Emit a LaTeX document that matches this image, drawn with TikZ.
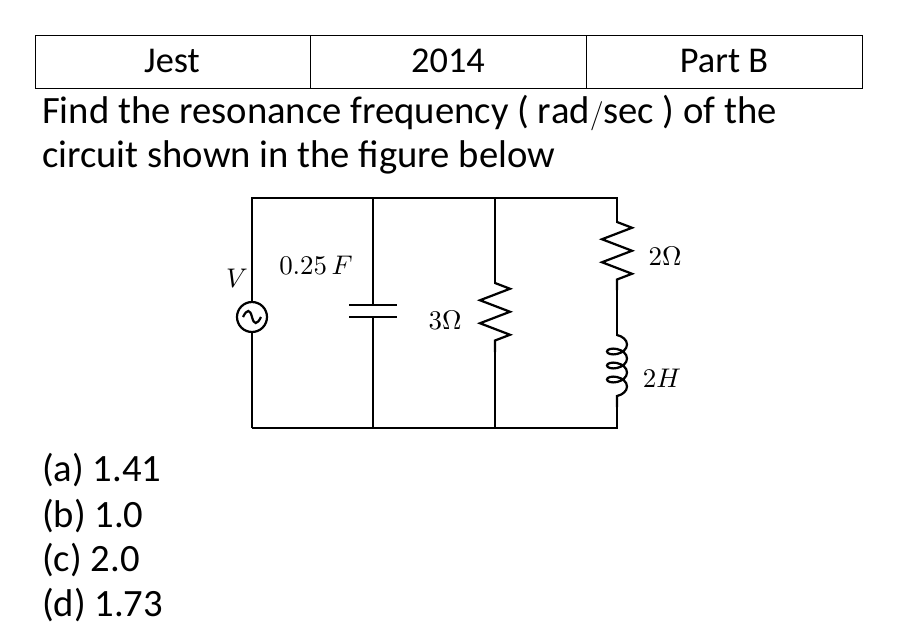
\documentclass[tikz,border=0pt]{standalone}
\usepackage{graphicx}
\usepackage{fontspec}
\setmainfont{Carlito}
\usetikzlibrary{decorations.pathmorphing}
\newcommand{\clab}[1]{\scalebox{2.3}{$#1$}}
\begin{document}
\begin{tikzpicture}[x=0.03cm,y=-0.03cm,
  txt/.style={font=\fontsize{33}{38}\selectfont},
  cell/.style={font=\fontsize{31}{36}\selectfont},
  wire/.style={line width=1.9pt},
  res/.style={wire,decorate,decoration={zigzag,segment length=0.69cm,amplitude=0.45cm}},
  coil/.style={wire,decorate,decoration={coil,segment length=0.42cm,amplitude=0.3cm,aspect=0.6}}]
\useasboundingbox (0,0) rectangle (907,641);

% Table
\draw[thick] (35,35) rectangle (862,88);
\draw[thick] (310,35) -- (310,88);
\draw[thick] (586,35) -- (586,88);
\node[cell] (jest) at (172,61) {Jest};
\node[cell] (year) at (448,61) {2014};
\node[cell] (part) at (724,61) {Part B};

% Question
\node[txt,anchor=west] (q1) at (38,113) {Find the resonance frequency ( $\mathrm{rad}/\mathrm{sec}$ ) of the};
\node[txt,anchor=west] (q2) at (38,157) {circuit shown in the figure below};

% Circuit corners
\coordinate (tl) at (252,198); \coordinate (bl) at (252,428);
\coordinate (tc) at (373,198); \coordinate (bc) at (373,428);
\coordinate (tm) at (495,198); \coordinate (bm) at (495,428);
\coordinate (tr) at (617,198); \coordinate (br) at (617,428);
\draw[wire] (bl) -- (tl) -- (tr) -- (br) -- (bl);
\draw[wire] (tm) -- (bm);

% Source
\draw[wire,fill=white] (252,317) circle (15);
\draw[wire] (243,317) .. controls (247,309) and (250,309) .. (252,317) .. controls (254,325) and (257,325) .. (261,317);
\node (vlab) at (237,278) {\clab{V}};

% Capacitor
\draw[wire] (tc) -- (bc);
\fill[white] (340,306) rectangle (406,316);
\draw[wire] (349,305) -- (397,305);
\draw[wire] (349,317) -- (397,317);
\node (clab) at (316,265) {\clab{0.25\,F}};

% 3 Ohm resistor
\fill[white] (476,284) rectangle (514,351);
\draw[res] (495,283) -- (495,352);
\node (r3lab) at (445,320) {\clab{3\Omega}};

% 2 Ohm resistor and inductor
\fill[white] (598,223) rectangle (636,289);
\draw[res] (617,222) -- (617,290);
\node (r2lab) at (665,256) {\clab{2\Omega}};
\fill[white] (598,336) rectangle (636,406);
\draw[coil] (617,335) -- (617,407);
\node (llab) at (662,378) {\clab{2H}};

% Choices
\node[txt,anchor=west] (ca) at (38,470) {(a) 1.41};
\node[txt,anchor=west] (cb) at (38,516) {(b) 1.0};
\node[txt,anchor=west] (cc) at (38,560) {(c) 2.0};
\node[txt,anchor=west] (cd) at (38,605) {(d) 1.73};
\end{tikzpicture}
\end{document}
